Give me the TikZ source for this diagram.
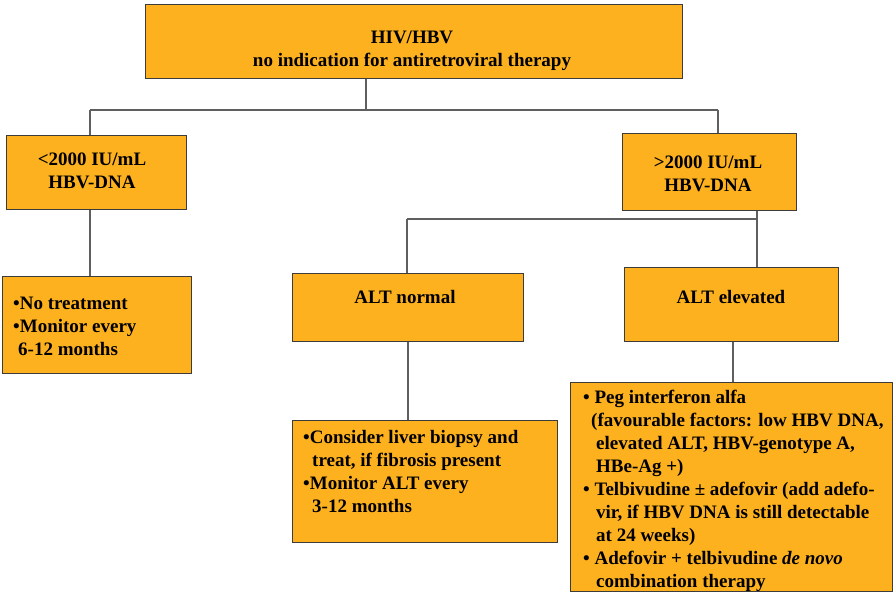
\documentclass[tikz,border=0pt]{standalone}
\usepackage{fontspec}
\setmainfont{Liberation Serif}[BoldFont={Liberation Serif Bold}, ItalicFont={Liberation Serif Italic}, BoldItalicFont={Liberation Serif Bold Italic}]
\newfontfamily\tnr{Liberation Serif}[BoldFont={Liberation Serif Bold}, ItalicFont={Liberation Serif Italic}, BoldItalicFont={Liberation Serif Bold Italic}]
\definecolor{boxfill}{RGB}{253,177,30}
\definecolor{boxline}{RGB}{60,60,60}
\definecolor{linkgray}{RGB}{95,95,95}
\begin{document}
\begin{tikzpicture}[x=1pt,y=-1pt,
  box/.style={draw=boxline, line width=1.3pt, fill=boxfill, inner sep=0pt, anchor=north west},
  link/.style={draw=linkgray, line width=1.4pt},
  txt/.style={font=\tnr\bfseries\fontsize{19}{23}\selectfont, inner sep=0pt},
  ltxt/.style={txt, align=left, anchor=north west},
  ctxt/.style={txt, align=center}]
\useasboundingbox (0,0) rectangle (895,593);
% boxes
\node[box, minimum width=537pt, minimum height=74pt] (top) at (145,4) {};
\node[box, minimum width=180pt, minimum height=74pt] (lo) at (6,135) {};
\node[box, minimum width=174pt, minimum height=77pt] (hi) at (622,133) {};
\node[box, minimum width=189pt, minimum height=97pt] (notreat) at (2,276) {};
\node[box, minimum width=231pt, minimum height=68pt] (altn) at (292,273) {};
\node[box, minimum width=214pt, minimum height=74pt] (alte) at (624,267) {};
\node[box, minimum width=265pt, minimum height=122pt] (consider) at (292,420) {};
\node[box, minimum width=322pt, minimum height=209pt] (peg) at (570,382) {};
% junction coordinates
\coordinate (j1) at (366,110);
\coordinate (j1l) at (90,110);
\coordinate (j1r) at (718,110);
\coordinate (j2) at (757,219);
\coordinate (j2l) at (407,219);
% connectors
\draw[link] (top.south -| j1) -- (j1);
\draw[link] (j1l) -- (j1r);
\draw[link] (j1l) -- (lo.north -| j1l);
\draw[link] (j1r) -- (hi.north -| j1r);
\draw[link] (lo.south -| j1l) -- (notreat.north -| j1l);
\draw[link] (hi.south -| j2) -- (j2);
\draw[link] (j2l) -- (j2);
\draw[link] (j2l) -- (altn.north -| j2l);
\draw[link] (j2) -- (alte.north -| j2);
\coordinate (c1) at (408,0);
\draw[link] (altn.south -| c1) -- (consider.north -| c1);
\coordinate (c2) at (733,0);
\draw[link] (alte.south -| c2) -- (peg.north -| c2);
% texts
\node[ctxt] (ttop) at (412,51) {HIV/HBV\\no indication for antiretroviral therapy};
\node[ctxt] (tlo) at (92,171) {<2000 IU/mL\\HBV-DNA};
\node[ctxt] (thi) at (708,174) {>2000 IU/mL\\HBV-DNA};
\node[ctxt] (taltn) at (405,297) {ALT normal};
\node[ctxt] (talte) at (731,297) {ALT elevated};
\node[ltxt] (tnotreat) at (13,296.5) {•No treatment\\•Monitor every\\\hspace*{5pt}6-12 months};
\node[ltxt] (tconsider) at (303,430.5) {•Consider liver biopsy and\\\hspace*{9pt}treat, if fibrosis present\\•Monitor ALT every\\\hspace*{9pt}3-12 months};
\node[ltxt] (tpeg) at (583,389.5) {• Peg interferon alfa\\
\hspace*{8pt}(favourable factors: low HBV DNA,\\
\hspace*{13pt}elevated ALT, HBV-genotype A,\\
\hspace*{13pt}HBe-Ag +)\\
• Telbivudine ± adefovir (add adefo-\\
\hspace*{13pt}vir, if HBV DNA is still detectable\\
\hspace*{13pt}at 24 weeks)\\
• Adefovir + telbivudine \textit{de novo}\\
\hspace*{13pt}combination therapy};
\end{tikzpicture}
\end{document}
